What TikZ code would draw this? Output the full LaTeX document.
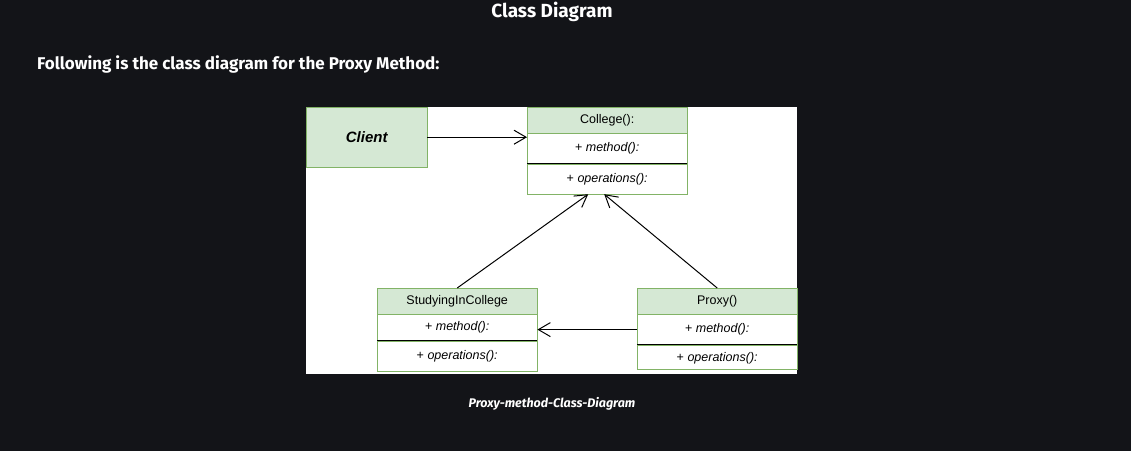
\documentclass[tikz,border=0pt]{standalone}
\usepackage{fontspec}
\setmainfont{Liberation Sans}
\newfontfamily\pagefont{Fira Sans}
\usetikzlibrary{arrows.meta,positioning}
\definecolor{pagebg}{HTML}{131418}
\definecolor{umlfill}{HTML}{D5E8D4}
\definecolor{umlline}{HTML}{82B366}

\begin{document}
\begin{tikzpicture}[x=1pt,y=-1pt]
\tikzstyle{classhead} = [
	shape=rectangle,
	draw=umlline, %green border
	fill=umlfill,
	anchor=north west,
	minimum width=160pt,
	minimum height=26pt,
	inner sep=0pt,
	font=\fontsize{12.5}{15}\selectfont
];
\tikzstyle{classpart} = [
	shape=rectangle,
	draw=umlline,
	fill=white,
	minimum width=160pt,
	inner sep=0pt,
	font=\fontsize{12.5}{15}\selectfont\itshape
];
\tikzstyle{pagetext} = [
	text=white,
	inner sep=0pt
];
\tikzstyle{assoc} = [
	-{Straight Barb[length=12pt,width=14pt]},
	line width=1pt,
	color=black
];

%background and white panel
\fill[pagebg] (0,0) rectangle (1131,451);
\fill[white] (306,107) rectangle (797,374);
\useasboundingbox (0,0) rectangle (1131,451);

%page texts
\node[pagetext, font=\pagefont\bfseries\fontsize{19}{22}\selectfont](title) at (552,12) {Class Diagram};
\node[pagetext, anchor=west, font=\pagefont\fontsize{17}{20}\selectfont\bfseries](intro) at (37,64) {Following is the class diagram for the Proxy Method:};
\node[pagetext, font=\pagefont\fontsize{12.5}{15}\selectfont\bfseries\itshape](caption) at (552,404) {Proxy-method-Class-Diagram};

%client
\node[classhead, minimum width=121pt, minimum height=60pt, font=\fontsize{15}{18}\selectfont\bfseries\itshape](client) at (306,107) {Client};

%college
\node[classhead](collegeHead) at (527,107) {College():};
\node[classpart, minimum height=30pt, below=0pt of collegeHead](collegeMethod) {\upshape+ \itshape method():};
\node[classpart, minimum height=30pt, below=0pt of collegeMethod](collegeOps) {\upshape+ \itshape operations():};

%studying in college
\node[classhead](studyHead) at (377,288) {StudyingInCollege};
\node[classpart, minimum height=26pt, below=0pt of studyHead](studyMethod) {\upshape+ \itshape method():};
\node[classpart, minimum height=30pt, below=0pt of studyMethod](studyOps) {\upshape+ \itshape operations():};

%proxy
\node[classhead](proxyHead) at (637,288) {Proxy()};
\node[classpart, minimum height=30pt, below=0pt of proxyHead](proxyMethod) {\upshape+ \itshape method():};
\node[classpart, minimum height=24pt, below=0pt of proxyMethod, text depth=-9pt](proxyOps) {\upshape+ \itshape operations():};

%dividers
\draw[black, line width=1pt]
	(collegeMethod.south west) -- (collegeMethod.south east)
	(studyMethod.south west) -- (studyMethod.south east)
	(proxyMethod.south west) -- (proxyMethod.south east)
;

%associations
\path
	(client.east) edge[assoc] (client.east -| collegeHead.west)
	(studyHead.north) edge[assoc] ([xshift=-19pt]collegeOps.south)
	(proxyHead.north) edge[assoc] ([xshift=-3pt]collegeOps.south)
	(proxyMethod.west) edge[assoc] ([yshift=-2pt]studyMethod.east)
;
\end{tikzpicture}
\end{document}
